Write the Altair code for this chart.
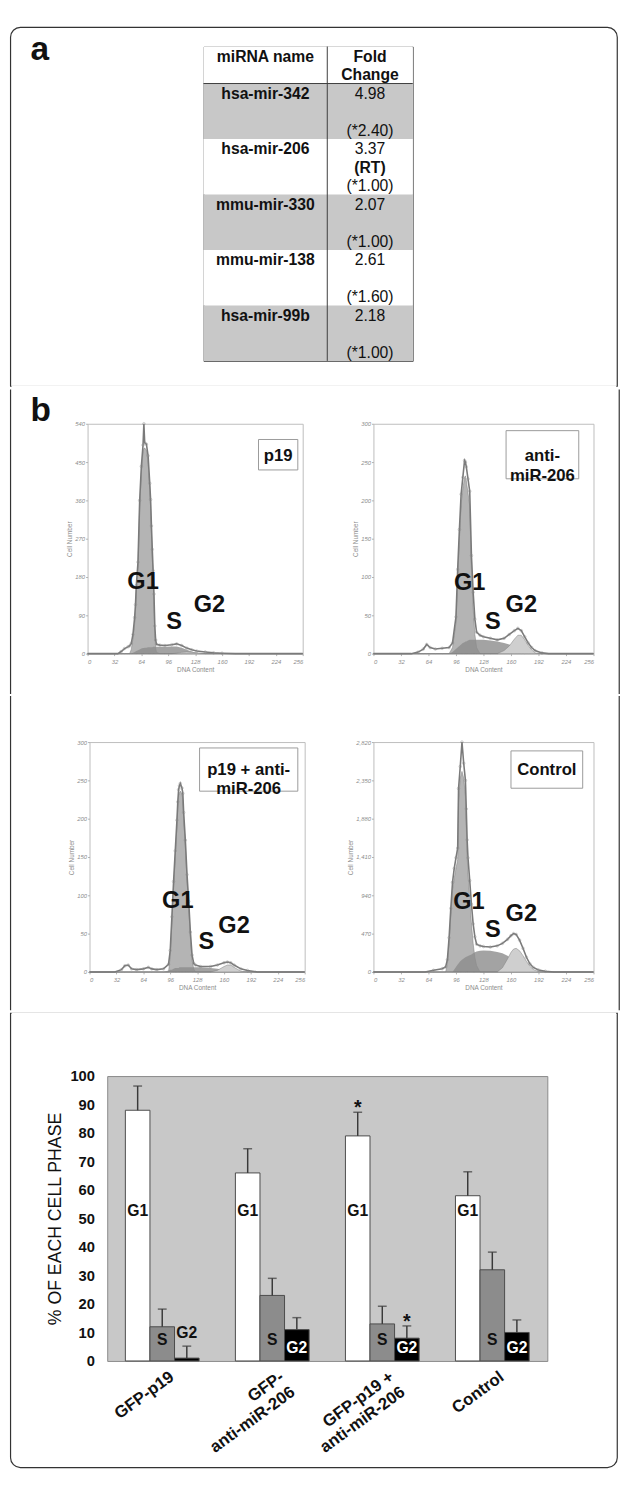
import altair as alt
import pandas as pd

FONT = "Liberation Sans"
FRAME = "#333333"

# ======================= DATA =======================
# (a) miRNA table
table_header = ["miRNA name", "Fold\nChange"]
mirna_names = ["hsa-mir-342", "hsa-mir-206", "mmu-mir-330", "mmu-mir-138", "hsa-mir-99b"]
fold_changes = ["4.98", "3.37", "2.07", "2.61", "2.18"]
fold_methods = ["", "(RT)", "", "", ""]
fold_notes = ["(*2.40)", "(*1.00)", "(*1.00)", "(*1.60)", "(*1.00)"]

# (b) flow cytometry histograms (DNA content channel -> cell number)
dna_ticks = [0, 32, 64, 96, 128, 160, 192, 224, 256]
hist_titles = ["p19", "anti-\nmiR-206", "p19 + anti-\nmiR-206", "Control"]
hist_ymax = [540, 300, 300, 2820]
hist_ystep = [90, 50, 50, 470]

p19_x = [0, 36, 40, 44, 48, 50, 52, 54, 56, 57, 58, 60, 62, 64, 66, 67, 68, 70, 72, 74,
         75, 76, 77, 78, 79, 80, 81, 82, 86, 92, 100, 106, 112, 118, 124, 130, 140, 150, 160, 176, 256]
p19_total = [0, 0, 5, 12, 16, 18, 24, 45, 85, 115, 160, 215, 360, 440, 490, 540, 495, 492, 465, 400,
             362, 300, 245, 195, 140, 65, 32, 22, 20, 19, 21, 23, 19, 13, 9, 6, 4, 2, 1, 0, 0]
p19_g1 = [0, 0, 0, 0, 0, 0, 10, 35, 70, 100, 150, 205, 345, 425, 475, 482, 483, 478, 450, 385,
          345, 285, 228, 178, 122, 48, 14, 3, 0, 0, 0, 0, 0, 0, 0, 0, 0, 0, 0, 0, 0]
p19_s = [0, 0, 0, 0, 0, 0, 0, 2, 4, 5, 6, 8, 10, 12, 13, 13, 14, 14, 15, 15,
         15, 15, 15, 16, 16, 16, 16, 16, 16, 16, 17, 17, 14, 9, 5, 2, 0, 0, 0, 0, 0]
p19_g2 = [0] * 31 + [1, 3, 4, 3, 2, 0, 0, 0, 0, 0]
p19_labels = [("G1", 66, 167), ("S", 103, 75), ("G2", 145, 113)]

anti_x = [0, 44, 52, 58, 62, 66, 72, 80, 88, 92, 96, 98, 100, 102, 104, 106, 107, 108, 110, 112,
          114, 116, 118, 120, 124, 128, 136, 144, 152, 158, 164, 168, 172, 176, 180, 184, 188, 196, 204, 256]
anti_total = [0, 0, 2, 6, 12, 8, 6, 7, 8, 14, 48, 110, 162, 208, 230, 252, 250, 244, 228, 212,
              128, 80, 45, 28, 24, 22, 20, 18, 20, 25, 30, 33, 30, 22, 14, 8, 4, 1, 0, 0]
anti_g1 = [0, 0, 0, 0, 0, 0, 0, 0, 0, 8, 40, 100, 150, 195, 215, 230, 232, 226, 210, 193,
           110, 60, 25, 8, 0, 0, 0, 0, 0, 0, 0, 0, 0, 0, 0, 0, 0, 0, 0, 0]
anti_s = [0, 0, 0, 0, 0, 0, 0, 0, 0, 2, 6, 8, 10, 12, 14, 15, 16, 16, 17, 18,
          18, 18, 18, 18, 18, 18, 17, 16, 14, 12, 9, 7, 4, 1, 0, 0, 0, 0, 0, 0]
anti_g2 = [0] * 27 + [0, 4, 10, 19, 24, 24, 18, 11, 5, 1, 0, 0, 0]
anti_labels = [("G1", 112, 92), ("S", 139, 41), ("G2", 172, 63)]

both_x = [0, 30, 38, 42, 46, 50, 56, 64, 70, 74, 80, 88, 94, 96, 98, 100, 102, 104, 105, 106,
          107, 108, 110, 111, 112, 114, 116, 118, 120, 122, 124, 126, 132, 144, 152, 160, 164, 168, 172, 180,
          188, 200, 256]
both_total = [0, 0, 3, 8, 9, 4, 3, 4, 6, 4, 3, 4, 10, 28, 72, 118, 158, 198, 222, 238,
              243, 246, 240, 233, 208, 172, 127, 92, 52, 22, 11, 9, 7, 7, 9, 12, 13, 12, 9, 4,
              2, 0, 0]
both_g1 = [0, 0, 0, 0, 0, 0, 0, 0, 0, 0, 0, 0, 0, 20, 65, 110, 150, 190, 215, 230,
           234, 236, 232, 225, 200, 165, 120, 85, 45, 15, 4, 0, 0, 0, 0, 0, 0, 0, 0, 0,
           0, 0, 0]
both_s = [0, 0, 0, 0, 0, 0, 0, 0, 0, 0, 0, 0, 2, 3, 3, 4, 5, 5, 5, 5,
          6, 6, 6, 6, 6, 6, 6, 6, 6, 6, 6, 6, 6, 5, 4, 3, 2, 1, 0, 0,
          0, 0, 0]
both_g2 = [0] * 33 + [0, 2, 7, 9, 9, 6, 1, 0, 0, 0]
both_labels = [("G1", 105, 93), ("S", 139, 39), ("G2", 172, 60)]

ctrl_x = [0, 60, 70, 80, 84, 86, 88, 90, 92, 94, 96, 98, 99, 101, 103, 105, 107, 108, 109, 110,
          112, 114, 116, 118, 120, 124, 128, 136, 144, 150, 156, 160, 163, 166, 170, 174, 178, 182, 186, 192,
          200, 210, 256]
ctrl_total = [0, 0, 20, 40, 60, 150, 420, 780, 1100, 1270, 1400, 1520, 2250, 2520, 2820, 2560, 2350, 2000, 1620, 1400,
              1120, 830, 590, 430, 340, 320, 312, 305, 320, 350, 400, 445, 470, 460, 390, 290, 180, 100, 55, 25,
              8, 0, 0]
ctrl_g1 = [0, 0, 0, 0, 0, 100, 350, 700, 1000, 1150, 1270, 1380, 2100, 2380, 2460, 2380, 2150, 1800, 1420, 1200,
           900, 600, 350, 180, 80, 0, 0, 0, 0, 0, 0, 0, 0, 0, 0, 0, 0, 0, 0, 0,
           0, 0, 0]
ctrl_s = [0, 0, 0, 0, 0, 0, 0, 0, 0, 30, 60, 90, 105, 130, 150, 165, 180, 185, 190, 195,
          205, 215, 230, 240, 250, 260, 262, 260, 245, 230, 200, 170, 145, 120, 85, 50, 20, 0, 0, 0,
          0, 0, 0]
ctrl_g2 = [0] * 28 + [0, 50, 160, 240, 280, 290, 260, 200, 130, 70, 30, 5, 0, 0, 0]
ctrl_labels = [("G1", 111, 853), ("S", 139, 507), ("G2", 172, 708)]

# (c) percentage of each cell-cycle phase
groups = ["GFP-p19", "GFP-\nanti-miR-206", "GFP-p19 +\nanti-miR-206", "Control"]
phases = ["G1", "S", "G2"]
pct_g1 = [88, 66, 79, 58]
pct_s = [12, 23, 13, 32]
pct_g2 = [1, 11, 8, 10]
err_g1 = [96.5, 74.5, 87.3, 66.4]
err_s = [18.2, 29.0, 19.2, 38.2]
err_g2 = [5.2, 15.2, 12.3, 14.4]
significant = [(2, "G1"), (2, "G2")]

# ======================= LAYOUT (page pixels) =======================
FR_L, FR_R, FR_T, FR_B = 9.6, 627.2, 13.5, 1473.5
SP_L, SP_R = 9, 628
ROW_A = (8, 380)
ROW_B = (380, 690)
ROW_C = (690, 1010)
ROW_D = (1010, 1475)
SPLIT = 335
ONE = pd.DataFrame({"k": [0]})


def pix_rect(x0, x1, y0, y1, **kw):
    return alt.Chart(ONE).mark_rect(**kw).encode(
        x=alt.value(x0), x2=alt.value(x1), y=alt.value(y0), y2=alt.value(y1))


def pix_rule(x0, x1, y, **kw):
    return alt.Chart(ONE).mark_rule(**kw).encode(x=alt.value(x0), x2=alt.value(x1), y=alt.value(y))


def pix_text(x, y, text, **kw):
    return alt.Chart(ONE).mark_text(**kw).encode(x=alt.value(x), y=alt.value(y), text=alt.value(text))


def pad():
    # 1px invisible cell at the page's left margin: every row starts from it
    return pix_rect(0, 1, 0, 1, opacity=0).properties(
        width=1, height=1, view=alt.ViewBackground(strokeOpacity=0, fillOpacity=0))


# ---------------- row A: table ----------------
TL, TT, TW, TH = 206, 33, 213, 320
NL = 2 + 3 * len(mirna_names)
col_w = [126, 87]
col_cx = [col_w[0] / 2, col_w[0] + col_w[1] / 2]

cells = []
for r in range(len(mirna_names) + 1):
    y0, y1 = (0, 2) if r == 0 else (2 + 3 * (r - 1), 2 + 3 * r)
    cells.append(dict(x0=0, x1=TW, y0=y0, y1=y1, fill="#c8c8c8" if r % 2 == 1 else "#ffffff"))
cells = pd.DataFrame(cells)

tl = [(0, 0, table_header[0], True)]
for i, t in enumerate(table_header[1].split("\n")):
    tl.append((1, i, t, True))
for r in range(len(mirna_names)):
    st = 2 + 3 * r
    tl.append((0, st, mirna_names[r], True))
    tl.append((1, st, fold_changes[r], False))
    if fold_methods[r]:
        tl.append((1, st + 1, fold_methods[r], True))
    tl.append((1, st + 2, fold_notes[r], False))
tdf = pd.DataFrame([dict(cx=col_cx[c], ly=l + 0.5, txt=t, bold=b) for c, l, t, b in tl])

lines_df = pd.DataFrame([
    dict(x0=col_w[0], x1=col_w[0], y0=0, y1=NL),
    dict(x0=0, x1=TW, y0=2, y1=2),
])

txs = alt.Scale(domain=[0, TW], nice=False, zero=False)
tys = alt.Scale(domain=[0, NL], nice=False, zero=False, reverse=True)

table_chart = alt.layer(
    pix_rect(SP_L - TL, SP_R - TL, ROW_A[0] - TT, ROW_A[1] - TT, opacity=0),
    pix_rect(FR_L - TL, FR_R - TL, FR_T - TT, ROW_A[1] - 1.2 - TT, fillOpacity=0, stroke=FRAME,
             strokeWidth=1.2, cornerRadiusTopLeft=10, cornerRadiusTopRight=10),
    pix_rule(FR_L + 1 - TL, FR_R - 1 - TL, ROW_A[1] - 1.2 - TT, color="white", strokeWidth=2),
    alt.Chart(cells).mark_rect().encode(
        x=alt.X("x0:Q", scale=txs, axis=None), x2="x1:Q",
        y=alt.Y("y0:Q", scale=tys, axis=None), y2="y1:Q",
        color=alt.Color("fill:N", scale=None)),
    alt.Chart(lines_df).mark_rule(color="#3c3c3c", strokeWidth=1).encode(
        x=alt.X("x0:Q", scale=txs, axis=None), x2="x1:Q",
        y=alt.Y("y0:Q", scale=tys, axis=None), y2="y1:Q"),
    alt.Chart(tdf).transform_filter("datum.bold").mark_text(
        font=FONT, fontSize=16, fontWeight="bold", color="#111", dy=1).encode(
        x=alt.X("cx:Q", scale=txs, axis=None), y=alt.Y("ly:Q", scale=tys, axis=None), text="txt:N"),
    alt.Chart(tdf).transform_filter("!datum.bold").mark_text(
        font=FONT, fontSize=16, color="#111", dy=1).encode(
        x=alt.X("cx:Q", scale=txs, axis=None), y=alt.Y("ly:Q", scale=tys, axis=None), text="txt:N"),
    pix_text(30 - TL, 47 - TT, "a", font=FONT, fontSize=34, fontWeight="bold", align="left",
             baseline="alphabetic", color="#111"),
).properties(width=TW, height=TH, view=alt.ViewBackground(stroke="#555", strokeWidth=1))


# ---------------- rows B, C: histograms ----------------
def hist_chart(xs, tot, g1, s, g2, labels, idx, box, lh, L, T, W, H, row, sx, side_x, letter=False):
    ymax, ystep = hist_ymax[idx], hist_ystep[idx]
    df = pd.DataFrame({"ch": xs, "total": tot, "g1": g1, "s": s, "g2": g2})
    lab = pd.DataFrame({"ph": [l[0] for l in labels], "ch": [l[1] for l in labels],
                        "cnt": [l[2] for l in labels]})
    xsc = alt.Scale(domain=[0, 256], nice=False, zero=False)
    ysc = alt.Scale(domain=[0, ymax], nice=False, zero=True)
    xax = alt.Axis(values=dna_ticks, title="DNA Content", labelFontSize=6, labelFontStyle="italic",
                   labelColor="#8c8c8c", titleFontSize=6.5, titleFontWeight="normal", titleColor="#8c8c8c",
                   tickSize=2, tickColor="#b0b0b0", domain=False, grid=False, labelPadding=3, titlePadding=2)
    yax = alt.Axis(values=list(range(0, ymax + 1, ystep)), title="Cell Number", labelFontSize=6,
                   labelFontStyle="italic", labelColor="#8c8c8c", titleFontSize=6.5, titleFontWeight="normal",
                   titleColor="#8c8c8c", tickSize=2, tickColor="#b0b0b0", domain=False, grid=False,
                   labelPadding=1, titlePadding=2)
    X = alt.X("ch:Q", scale=xsc, axis=xax)

    def Y(f):
        return alt.Y(f + ":Q", scale=ysc, axis=yax)

    base = alt.Chart(df)
    layers = [
        pix_rect(sx[0] - L, sx[1] - L, row[0] - T, row[1] - T, opacity=0),
        pix_rect(side_x - 0.6 - L, side_x + 0.6 - L, row[0] - T, row[1] - T, color=FRAME),
        base.mark_area(fill="#b4b4b4", stroke="#7a7a7a", strokeWidth=0.5).encode(x=X, y=Y("g1")),
        base.mark_area(fill="#8c8c8c", fillOpacity=0.8).encode(x=X, y=Y("s")),
        base.mark_area(fill="#cfcfcf", stroke="#808080", strokeWidth=0.5).encode(x=X, y=Y("g2")),
        base.mark_line(color="#7a7a7a", strokeWidth=1.6).encode(x=X, y=Y("total")),
        base.transform_filter("datum.total > 0").mark_point(
            shape="circle", size=7, filled=False, color="#8a8a8a", strokeWidth=0.6).encode(
            x=X, y=Y("total")),
        alt.Chart(lab).mark_text(font=FONT, fontSize=24, fontWeight="bold", color="#111").encode(
            x=X, y=Y("cnt"), text="ph:N"),
        pix_rect(box[0], box[1], box[2], box[3], fill="white", stroke="#9a9a9a", strokeWidth=1),
        pix_text((box[0] + box[1]) / 2, (box[2] + box[3]) / 2 + 1, hist_titles[idx], font=FONT, fontSize=17,
                 fontWeight="bold", color="#111", lineBreak="\n", lineHeight=lh, baseline="middle",
                 align="center"),
    ]
    if letter:
        layers.append(pix_text(30 - L, 412 - T, "b", font=FONT, fontSize=34, fontWeight="bold",
                               align="left", baseline="alphabetic", color="#111"))
    return alt.layer(*layers).properties(
        width=W, height=H, view=alt.ViewBackground(stroke="#bdbdbd", strokeWidth=1, fill="white"))


h1 = hist_chart(p19_x, p19_total, p19_g1, p19_s, p19_g2, p19_labels, 0, (174, 214, 16, 47), 19,
                88, 415, 219, 234, ROW_B, (SP_L, SPLIT), FR_L, letter=True)
h2 = hist_chart(anti_x, anti_total, anti_g1, anti_s, anti_g2, anti_labels, 1, (135, 209, 7, 56), 21,
                377, 415, 224, 234, ROW_B, (SPLIT, SP_R), FR_R)
h3 = hist_chart(both_x, both_total, both_g1, both_s, both_g2, both_labels, 2, (112, 212, 6, 50), 19,
                90, 737, 219, 234, ROW_C, (SP_L, SPLIT), FR_L)
h4 = hist_chart(ctrl_x, ctrl_total, ctrl_g1, ctrl_s, ctrl_g2, ctrl_labels, 3, (140, 213, 9, 47), 19,
                377, 737, 224, 234, ROW_C, (SPLIT, SP_R), FR_R)

# ---------------- row D: bar chart ----------------
BL, BT, BW, BH = 108, 1075, 448, 290
CW = {"G": .778, "F": .611, "P": .667, "-": .333, "p": .611, "1": .556, "9": .556, " ": .278, "+": .584,
      "a": .556, "n": .611, "t": .333, "i": .278, "m": .889, "R": .722, "2": .556, "0": .556, "6": .556,
      "C": .722, "o": .611, "r": .389, "l": .278}


def centered(label):
    lines = label.split("\n")
    if len(lines) == 1:
        return label
    w = [sum(CW.get(c, .6) for c in ln) for ln in lines]
    m = max(w)
    return "\n".join(ln + "\u00a0" * int(round((m - wi) / 2 / 0.278)) for ln, wi in zip(lines, w))


disp = [centered(g) for g in groups]
rows = []
for gi in range(len(groups)):
    for ph, v, e in zip(phases, [pct_g1, pct_s, pct_g2], [err_g1, err_s, err_g2]):
        rows.append(dict(group=disp[gi], gi=gi, phase=ph, pct=v[gi], err=e[gi]))
bdf = pd.DataFrame(rows)
sig = pd.DataFrame([dict(group=disp[g], phase=p, err=bdf[(bdf.gi == g) & (bdf.phase == p)].err.iloc[0])
                    for g, p in significant])

xax_b = alt.Axis(title=None, labelAngle=-36, labelAlign="right", labelBaseline="middle", labelFontSize=17,
                 labelFontWeight="bold", labelColor="#111", labelPadding=14, labelOffset=10, ticks=False,
                 domain=False, labelExpr="split(datum.value, '\\n')", labelLineHeight=19, labelLimit=400)
yax_b = alt.Axis(values=list(range(0, 101, 10)), title="% OF EACH CELL PHASE", labelFontSize=15,
                 labelFontWeight="bold", labelColor="#111", ticks=False, tickSize=0, domain=False, grid=False,
                 labelPadding=13, titleFontSize=18, titleFontWeight="normal", titleColor="#111", titlePadding=6)
XB = alt.X("group:N", sort=disp, scale=alt.Scale(paddingInner=0.33, paddingOuter=0.165), axis=xax_b)
XO = alt.XOffset("phase:N", sort=phases, scale=alt.Scale(paddingInner=0, paddingOuter=0))


def YB(f):
    return alt.Y(f + ":Q", scale=alt.Scale(domain=[0, 100], nice=False), axis=yax_b)


bb = alt.Chart(bdf)
lbl = dict(font=FONT, fontSize=16, fontWeight="bold")
bar_chart = alt.layer(
    pix_rect(SP_L - BL, SP_R - BL, ROW_D[0] - BT, ROW_D[1] - BT, opacity=0),
    pix_rect(FR_L - BL, FR_R - BL, ROW_D[0] + 1.2 - BT, FR_B - BT, fillOpacity=0, stroke=FRAME,
             strokeWidth=1.2, cornerRadiusBottomLeft=10, cornerRadiusBottomRight=10),
    pix_rule(FR_L + 1 - BL, FR_R - 1 - BL, ROW_D[0] + 1.2 - BT, color="white", strokeWidth=2),
    bb.mark_bar(stroke="#4a4a4a", strokeWidth=1).encode(
        x=XB, xOffset=XO, y=YB("pct"),
        color=alt.Color("phase:N", scale=alt.Scale(domain=phases, range=["#ffffff", "#8c8c8c", "#000000"]),
                        legend=None)),
    bb.mark_rule(color="#3a3a3a", strokeWidth=1.5).encode(x=XB, xOffset=XO, y=YB("pct"), y2="err:Q"),
    bb.mark_tick(color="#3a3a3a", thickness=1.5, size=9).encode(x=XB, xOffset=XO, y=YB("err")),
    bb.transform_filter("datum.phase == 'G1'").transform_calculate(ly="52.5").mark_text(
        color="#111", **lbl).encode(x=XB, xOffset=XO, y=YB("ly"), text="phase:N"),
    bb.transform_filter("datum.phase == 'S'").transform_calculate(ly="7.5").mark_text(
        color="#111", **lbl).encode(x=XB, xOffset=XO, y=YB("ly"), text="phase:N"),
    bb.transform_filter("datum.phase == 'G2' && datum.pct >= 5").transform_calculate(ly="4.6").mark_text(
        color="white", **lbl).encode(x=XB, xOffset=XO, y=YB("ly"), text="phase:N"),
    bb.transform_filter("datum.phase == 'G2' && datum.pct < 5").transform_calculate(ly="9.8").mark_text(
        color="#111", **lbl).encode(x=XB, xOffset=XO, y=YB("ly"), text="phase:N"),
    alt.Chart(sig).mark_text(text="*", font=FONT, fontSize=20, fontWeight="bold", color="#111",
                             baseline="middle", dy=-4).encode(x=XB, xOffset=XO, y=YB("err")),
).properties(width=BW, height=BH, view=alt.ViewBackground(fill="#c8c8c8", stroke="#8a8a8a", strokeWidth=1))

row_a = alt.hconcat(pad(), table_chart, spacing=0)
row_b = alt.hconcat(pad(), h1, h2, spacing=0)
row_c = alt.hconcat(pad(), h3, h4, spacing=0)
row_d = alt.hconcat(pad(), bar_chart, spacing=0)

chart = alt.vconcat(row_a, row_b, row_c, row_d, spacing=0, padding=0).configure(font=FONT)

chart.save("out.html", embed_options={"renderer": "svg", "actions": False})
